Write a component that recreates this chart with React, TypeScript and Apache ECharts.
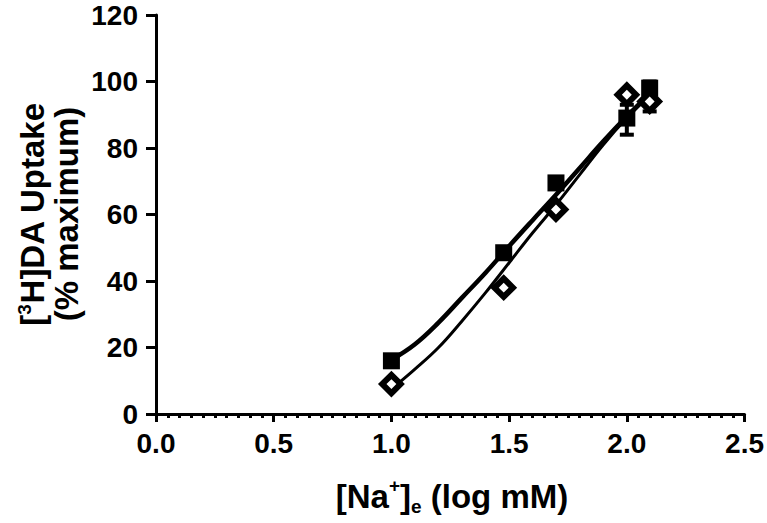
import React, { useEffect, useRef } from "react";
import * as echarts from "echarts";

// Data
const xValues = [1.0, 1.477, 1.699, 2.0, 2.097];
const squareValues = [16, 48.5, 69.5, 89, 98];
const diamondValues = [9, 38, 61.5, 96, 94];
const squareErrLow = [16, 48.5, 69.5, 84, 91];
const squareErrHigh = [16, 48.5, 69.5, 93, 100];

const curveX = [1.0, 1.1, 1.2, 1.3, 1.4, 1.5, 1.6, 1.7, 1.8, 1.9, 2.0, 2.1];
const squareCurveY = [16.3, 21, 27.5, 35, 42.5, 50.5, 58.3, 66, 74, 82, 89.5, 96.5];
const diamondCurveY = [7.5, 13.5, 20, 28, 36.5, 45.5, 54.5, 63, 72, 81, 89, 96];

const xTicks = [0, 0.5, 1.0, 1.5, 2.0, 2.5];
const yTicks = [0, 20, 40, 60, 80, 100, 120];

const FONT = "'Liberation Sans', Arial, sans-serif";

export default function App() {
  const ref = useRef<HTMLDivElement>(null);

  useEffect(() => {
    if (!ref.current) return;
    const chart = echarts.init(ref.current, undefined, { renderer: "svg" });

    const errData = xValues.map((x, i) => [x, squareErrLow[i], squareErrHigh[i]]);

    const option: any = {
      animation: false,
      backgroundColor: "#ffffff",
      grid: { left: 156, right: 20, top: 15, bottom: 109, containLabel: false },
      xAxis: {
        type: "value",
        min: xTicks[0],
        max: xTicks[xTicks.length - 1],
        interval: 0.5,
        axisLine: { show: true, onZero: false, lineStyle: { color: "#000", width: 3 } },
        axisTick: { show: true, length: 8, lineStyle: { color: "#000", width: 3 } },
        minorTick: { show: true, splitNumber: 10, length: 4, lineStyle: { color: "#000", width: 3 } },
        splitLine: { show: false },
        axisLabel: {
          color: "#000",
          fontFamily: FONT,
          fontWeight: "bold",
          fontSize: 28,
          margin: 15,
          formatter: (v: number) => v.toFixed(1),
        },
      },
      yAxis: {
        type: "value",
        min: yTicks[0],
        max: yTicks[yTicks.length - 1],
        interval: 20,
        axisLine: { show: true, onZero: false, lineStyle: { color: "#000", width: 3 } },
        axisTick: { show: true, length: 10, lineStyle: { color: "#000", width: 3 } },
        splitLine: { show: false },
        axisLabel: {
          color: "#000",
          fontFamily: FONT,
          fontWeight: "bold",
          fontSize: 28,
          margin: 18,
        },
      },
      graphic: [
        {
          type: "text",
          x: 49,
          y: 214,
          rotation: Math.PI / 2,
          style: {
            text: "{m|[}{s|3}{m|H]DA Uptake}\n{m|(% maximum)}",
            align: "center",
            verticalAlign: "middle",
            fill: "#000",
            rich: {
              m: { fontFamily: FONT, fontWeight: "bold", fontSize: 33, lineHeight: 34, fill: "#000" },
              s: { fontFamily: FONT, fontWeight: "bold", fontSize: 19, lineHeight: 34, verticalAlign: "top", fill: "#000" },
            },
          },
        },
        {
          type: "text",
          x: 452,
          y: 496,
          style: {
            text: "{m|[Na}{s|+}{m|]}{b|e}{m| (log mM)}",
            align: "center",
            verticalAlign: "middle",
            fill: "#000",
            rich: {
              m: { fontFamily: FONT, fontWeight: "bold", fontSize: 33, lineHeight: 40, fill: "#000" },
              s: { fontFamily: FONT, fontWeight: "bold", fontSize: 19, lineHeight: 40, verticalAlign: "top", fill: "#000" },
              b: { fontFamily: FONT, fontWeight: "bold", fontSize: 19, lineHeight: 40, verticalAlign: "bottom", fill: "#000" },
            },
          },
        },
      ],
      series: [
        {
          name: "fit-square",
          type: "line",
          data: curveX.map((x, i) => [x, squareCurveY[i]]),
          smooth: 0.4,
          showSymbol: false,
          lineStyle: { color: "#000", width: 4.5 },
          z: 2,
        },
        {
          name: "fit-diamond",
          type: "line",
          data: curveX.map((x, i) => [x, diamondCurveY[i]]),
          smooth: 0.4,
          showSymbol: false,
          lineStyle: { color: "#000", width: 3 },
          z: 2,
        },
        {
          name: "err",
          type: "custom",
          data: errData,
          z: 3,
          renderItem: (params: any, api: any) => {
            const x = api.value(0);
            const lo = api.coord([x, api.value(1)]);
            const hi = api.coord([x, api.value(2)]);
            const cw = 7;
            const st = { stroke: "#000", lineWidth: 4 };
            return {
              type: "group",
              children: [
                { type: "line", shape: { x1: lo[0], y1: lo[1], x2: hi[0], y2: hi[1] }, style: st },
                { type: "line", shape: { x1: lo[0] - cw, y1: lo[1], x2: lo[0] + cw, y2: lo[1] }, style: st },
                { type: "line", shape: { x1: hi[0] - cw, y1: hi[1], x2: hi[0] + cw, y2: hi[1] }, style: st },
              ],
            };
          },
        },
        {
          name: "squares",
          type: "scatter",
          data: xValues.map((x, i) => [x, squareValues[i]]),
          symbol: "rect",
          symbolSize: 17,
          itemStyle: { color: "#000", opacity: 1 },
          z: 4,
        },
        {
          name: "diamonds",
          type: "scatter",
          data: xValues.map((x, i) => [x, diamondValues[i]]),
          symbol: "rect",
          symbolRotate: 45,
          symbolSize: 13,
          itemStyle: { color: "#fff", borderColor: "#000", borderWidth: 6, opacity: 1 },
          z: 5,
        },
      ],
    };

    chart.setOption(option);
    return () => chart.dispose();
  }, []);

  return (
    <div
      ref={ref}
      style={{ position: "fixed", left: 0, top: 0, width: 767, height: 523 }}
    />
  );
}
